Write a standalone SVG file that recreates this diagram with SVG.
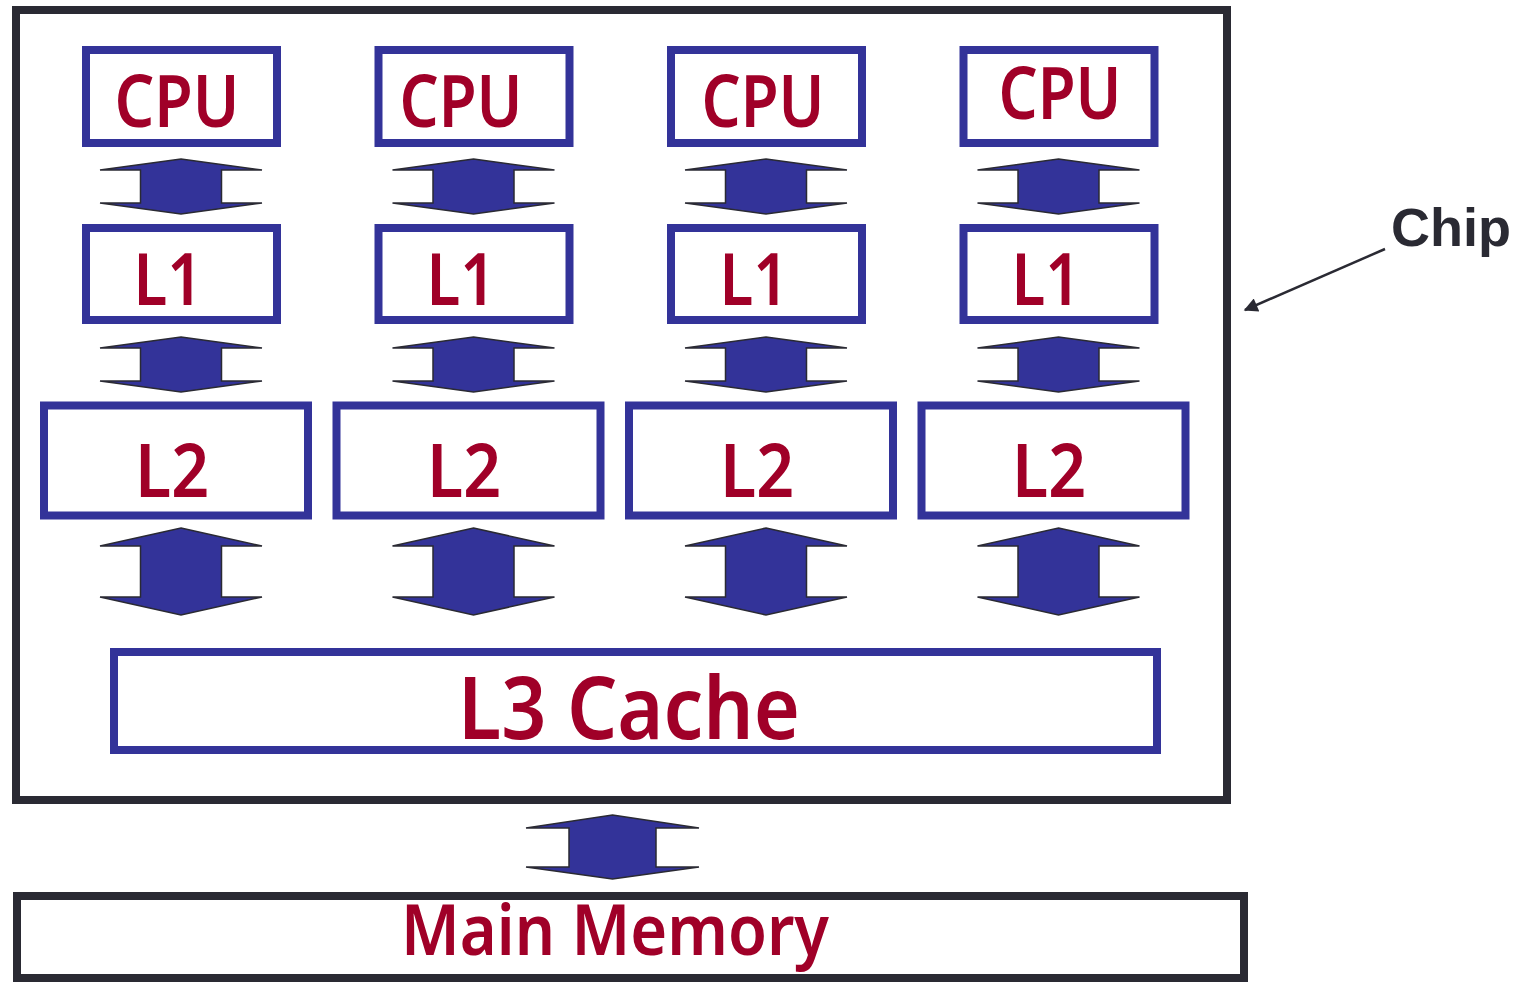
<svg xmlns="http://www.w3.org/2000/svg" width="1526" height="982" viewBox="0 0 1526 982">
<style>
.chip{fill:#fff;stroke:#2a2a33;stroke-width:8}
.box{fill:#fff;stroke:#333399;stroke-width:8}
.arr{fill:#333399;stroke:#2a2a33;stroke-width:1.5;stroke-linejoin:miter}
.lbl{font-family:"Noto Sans","DejaVu Sans",sans-serif;font-weight:600;fill:#a00028;text-anchor:middle}
.chiplbl{font-family:"Liberation Sans",Arial,sans-serif;font-weight:bold;font-size:54px;fill:#2a2a33}
</style>
<defs>
<path id="aS" class="arr" d="M0,0 L81,11 L40.5,11 L40.5,44 L81,44 L0,55 L-81,44 L-40.5,44 L-40.5,11 L-81,11 Z"/>
<path id="aB" class="arr" d="M0,0 L81,18 L40.5,18 L40.5,69 L81,69 L0,87 L-81,69 L-40.5,69 L-40.5,18 L-81,18 Z"/>
<marker id="mh" viewBox="0 0 10 10" refX="9" refY="5" markerWidth="16" markerHeight="14" markerUnits="userSpaceOnUse" orient="auto"><path d="M0,0 L10,5 L0,10 Z" fill="#2a2a33"/></marker>
</defs>
<rect width="1526" height="982" fill="#fff"/>
<g id="chip"><rect class="chip" x="16" y="10" width="1211" height="790"/></g>
<g id="memory"><rect class="chip" x="17" y="896" width="1227" height="82"/><text class="lbl" x="615" y="955" font-size="70" textLength="428" lengthAdjust="spacingAndGlyphs">Main Memory</text></g>
<g id="cpu1"><rect class="box" x="86" y="50" width="191" height="93"/><text class="lbl" x="177" y="127" font-size="72" textLength="125" lengthAdjust="spacingAndGlyphs">CPU</text></g>
<g id="cpu2"><rect class="box" x="378.5" y="50" width="191" height="93"/><text class="lbl" x="461" y="127" font-size="72" textLength="123" lengthAdjust="spacingAndGlyphs">CPU</text></g>
<g id="cpu3"><rect class="box" x="671" y="50" width="191" height="93"/><text class="lbl" x="763" y="127" font-size="72" textLength="123" lengthAdjust="spacingAndGlyphs">CPU</text></g>
<g id="cpu4"><rect class="box" x="963.5" y="50" width="191" height="93"/><text class="lbl" x="1060" y="119" font-size="72" textLength="123" lengthAdjust="spacingAndGlyphs">CPU</text></g>
<g id="l1a"><rect class="box" x="86" y="228" width="191" height="92"/><text class="lbl" x="168" y="305" font-size="72" textLength="69" lengthAdjust="spacingAndGlyphs">L1</text></g>
<g id="l1b"><rect class="box" x="378.5" y="228" width="191" height="92"/><text class="lbl" x="461" y="305" font-size="72" textLength="69" lengthAdjust="spacingAndGlyphs">L1</text></g>
<g id="l1c"><rect class="box" x="671" y="228" width="191" height="92"/><text class="lbl" x="754" y="305" font-size="72" textLength="69" lengthAdjust="spacingAndGlyphs">L1</text></g>
<g id="l1d"><rect class="box" x="963.5" y="228" width="191" height="92"/><text class="lbl" x="1046" y="305" font-size="72" textLength="69" lengthAdjust="spacingAndGlyphs">L1</text></g>
<g id="l2a"><rect class="box" x="44" y="405.5" width="264" height="110"/><text class="lbl" x="172" y="497" font-size="74" textLength="74" lengthAdjust="spacingAndGlyphs">L2</text></g>
<g id="l2b"><rect class="box" x="336.5" y="405.5" width="264" height="110"/><text class="lbl" x="464" y="497" font-size="74" textLength="74" lengthAdjust="spacingAndGlyphs">L2</text></g>
<g id="l2c"><rect class="box" x="629" y="405.5" width="264" height="110"/><text class="lbl" x="757" y="497" font-size="74" textLength="74" lengthAdjust="spacingAndGlyphs">L2</text></g>
<g id="l2d"><rect class="box" x="921.5" y="405.5" width="264" height="110"/><text class="lbl" x="1049" y="497" font-size="74" textLength="74" lengthAdjust="spacingAndGlyphs">L2</text></g>
<g id="l3"><rect class="box" x="114" y="652" width="1043" height="98"/><text class="lbl" x="629" y="739" font-size="86" textLength="342" lengthAdjust="spacingAndGlyphs">L3 Cache</text></g>
<g id="chiplabel"><text class="chiplbl" x="1391" y="246">Chip</text></g>
<g id="connectors">
<use href="#aS" x="181" y="159"/><use href="#aS" x="473.5" y="159"/><use href="#aS" x="766" y="159"/><use href="#aS" x="1058.5" y="159"/>
<use href="#aS" x="181" y="337"/><use href="#aS" x="473.5" y="337"/><use href="#aS" x="766" y="337"/><use href="#aS" x="1058.5" y="337"/>
<use href="#aB" x="181" y="528"/><use href="#aB" x="473.5" y="528"/><use href="#aB" x="766" y="528"/><use href="#aB" x="1058.5" y="528"/>
<path class="arr" d="M612.5,815 L699,828 L656,828 L656,867 L699,867 L612.5,879 L526,867 L569,867 L569,828 L526,828 Z"/>
<line x1="1385" y1="249" x2="1245" y2="310" stroke="#2a2a33" stroke-width="2.5" marker-end="url(#mh)"/>
</g>
</svg>
